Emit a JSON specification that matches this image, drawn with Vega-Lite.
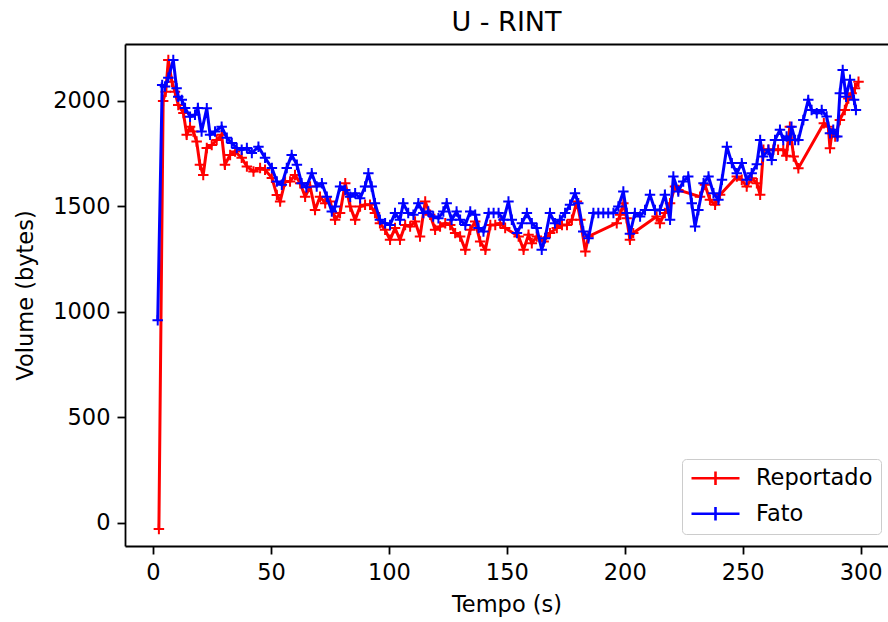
{
  "$schema": "https://vega.github.io/schema/vega-lite/v6.json",
  "autosize": {"type": "none"},
  "padding": {"left": 125, "top": 44, "right": 0, "bottom": 76},
  "width": 763,
  "height": 502,
  "background": "white",
  "title": {"text": "U - RINT", "fontSize": 27, "font": "DejaVu Sans", "fontWeight": "normal", "color": "#000000", "offset": 7, "anchor": "middle", "frame": "group"},
  "config": {
    "view": {"stroke": null},
    "axis": {"grid": false, "domainColor": "#000000", "domainWidth": 1.8, "tickColor": "#000000", "tickWidth": 1.8, "tickSize": 8, "labelPadding": 7, "labelFont": "DejaVu Sans", "labelFontSize": 22.5, "labelColor": "#000000", "titleFont": "DejaVu Sans", "titleFontSize": 22.5, "titleFontWeight": "normal", "titleColor": "#000000", "titlePadding": 8}
  },
  "datasets": {
    "rep": [
      {"t": 2.5, "v": -30}, {"t": 4.3, "v": 2000}, {"t": 5.4, "v": 2044}, {"t": 6.5, "v": 2194}, {"t": 8, "v": 2091}, {"t": 9.3, "v": 2044}, {"t": 10.7, "v": 1981}, {"t": 12.9, "v": 1943}, {"t": 14.3, "v": 1839}, {"t": 15.7, "v": 1878}, {"t": 17.1, "v": 1855}, {"t": 18.5, "v": 1807}, {"t": 19.9, "v": 1697}, {"t": 21.3, "v": 1649}, {"t": 22.8, "v": 1777}, {"t": 24.9, "v": 1791}, {"t": 27, "v": 1815}, {"t": 29.1, "v": 1839}, {"t": 30.5, "v": 1697}, {"t": 32.7, "v": 1744}, {"t": 34.8, "v": 1760}, {"t": 37.6, "v": 1730}, {"t": 39.8, "v": 1689}, {"t": 42.6, "v": 1665}, {"t": 45.4, "v": 1682}, {"t": 47.5, "v": 1673}, {"t": 50.4, "v": 1635}, {"t": 52.5, "v": 1554}, {"t": 53.9, "v": 1523}, {"t": 56, "v": 1618}, {"t": 58.1, "v": 1618}, {"t": 60.2, "v": 1649}, {"t": 62.4, "v": 1610}, {"t": 64.5, "v": 1546}, {"t": 66.6, "v": 1594}, {"t": 68.7, "v": 1483}, {"t": 70.8, "v": 1546}, {"t": 73, "v": 1515}, {"t": 75.1, "v": 1523}, {"t": 77.2, "v": 1436}, {"t": 79.3, "v": 1468}, {"t": 81.5, "v": 1610}, {"t": 83.6, "v": 1499}, {"t": 85.7, "v": 1436}, {"t": 87.8, "v": 1499}, {"t": 89.9, "v": 1507}, {"t": 92, "v": 1507}, {"t": 94.1, "v": 1468}, {"t": 96.2, "v": 1420}, {"t": 98.4, "v": 1389}, {"t": 100.5, "v": 1341}, {"t": 102.6, "v": 1397}, {"t": 104.7, "v": 1341}, {"t": 106.9, "v": 1412}, {"t": 109, "v": 1404}, {"t": 111.1, "v": 1428}, {"t": 113.2, "v": 1357}, {"t": 115.4, "v": 1523}, {"t": 117.5, "v": 1460}, {"t": 119.6, "v": 1389}, {"t": 121.7, "v": 1404}, {"t": 123.9, "v": 1420}, {"t": 126, "v": 1412}, {"t": 128.1, "v": 1373}, {"t": 130.2, "v": 1357}, {"t": 132.4, "v": 1294}, {"t": 134.5, "v": 1389}, {"t": 136.6, "v": 1428}, {"t": 138.7, "v": 1333}, {"t": 140.9, "v": 1294}, {"t": 143, "v": 1412}, {"t": 145.1, "v": 1412}, {"t": 147.2, "v": 1420}, {"t": 149.3, "v": 1397}, {"t": 155, "v": 1357}, {"t": 157.1, "v": 1294}, {"t": 159.2, "v": 1365}, {"t": 160.6, "v": 1325}, {"t": 162.7, "v": 1357}, {"t": 165.6, "v": 1333}, {"t": 168.3, "v": 1373}, {"t": 171.2, "v": 1397}, {"t": 173.4, "v": 1412}, {"t": 175.5, "v": 1412}, {"t": 177.6, "v": 1436}, {"t": 179.7, "v": 1523}, {"t": 181.2, "v": 1436}, {"t": 183.3, "v": 1286}, {"t": 184.6, "v": 1357}, {"t": 196.6, "v": 1420}, {"t": 198.1, "v": 1460}, {"t": 199.4, "v": 1515}, {"t": 200.8, "v": 1444}, {"t": 202.2, "v": 1341}, {"t": 203.6, "v": 1373}, {"t": 213.5, "v": 1452}, {"t": 214.9, "v": 1420}, {"t": 217, "v": 1468}, {"t": 219.2, "v": 1515}, {"t": 221.3, "v": 1594}, {"t": 222.7, "v": 1578}, {"t": 231.9, "v": 1546}, {"t": 234, "v": 1602}, {"t": 236.1, "v": 1531}, {"t": 238.3, "v": 1507}, {"t": 240.4, "v": 1555}, {"t": 247.5, "v": 1641}, {"t": 249.6, "v": 1626}, {"t": 251.7, "v": 1594}, {"t": 253.8, "v": 1633}, {"t": 256, "v": 1610}, {"t": 257.4, "v": 1555}, {"t": 258.8, "v": 1768}, {"t": 260.9, "v": 1768}, {"t": 263, "v": 1768}, {"t": 265, "v": 1768}, {"t": 267.2, "v": 1768}, {"t": 268.5, "v": 1740}, {"t": 270, "v": 1878}, {"t": 271.6, "v": 1736}, {"t": 273.6, "v": 1681}, {"t": 284.4, "v": 1894}, {"t": 286.3, "v": 1878}, {"t": 287, "v": 1776}, {"t": 287.8, "v": 1847}, {"t": 289.2, "v": 1831}, {"t": 291.2, "v": 1910}, {"t": 293.3, "v": 1957}, {"t": 294.8, "v": 2012}, {"t": 296.2, "v": 2036}, {"t": 297.6, "v": 2060}, {"t": 299.1, "v": 2091}
    ],
    "fato": [
      {"t": 2, "v": 960}, {"t": 3.9, "v": 2076}, {"t": 5.1, "v": 2068}, {"t": 6.5, "v": 2110}, {"t": 8.6, "v": 2194}, {"t": 10, "v": 2060}, {"t": 10.7, "v": 2020}, {"t": 12.2, "v": 2005}, {"t": 13.6, "v": 1967}, {"t": 15.7, "v": 1925}, {"t": 17.8, "v": 1934}, {"t": 19, "v": 1967}, {"t": 20.6, "v": 1855}, {"t": 22.8, "v": 1965}, {"t": 24.2, "v": 1839}, {"t": 26.3, "v": 1855}, {"t": 29.1, "v": 1878}, {"t": 31.3, "v": 1825}, {"t": 33.4, "v": 1800}, {"t": 35.5, "v": 1777}, {"t": 37.6, "v": 1768}, {"t": 39.8, "v": 1777}, {"t": 41.9, "v": 1753}, {"t": 44.7, "v": 1783}, {"t": 47.5, "v": 1730}, {"t": 50.4, "v": 1682}, {"t": 52.5, "v": 1618}, {"t": 54.6, "v": 1602}, {"t": 56.7, "v": 1682}, {"t": 58.8, "v": 1744}, {"t": 61, "v": 1697}, {"t": 63, "v": 1610}, {"t": 65, "v": 1590}, {"t": 67.3, "v": 1657}, {"t": 69.4, "v": 1594}, {"t": 71.6, "v": 1610}, {"t": 73.7, "v": 1546}, {"t": 75.8, "v": 1475}, {"t": 77.2, "v": 1499}, {"t": 79.3, "v": 1594}, {"t": 81.5, "v": 1578}, {"t": 83.6, "v": 1546}, {"t": 85.7, "v": 1562}, {"t": 87.8, "v": 1538}, {"t": 89.9, "v": 1594}, {"t": 91.3, "v": 1657}, {"t": 92.7, "v": 1594}, {"t": 94.1, "v": 1515}, {"t": 96.2, "v": 1436}, {"t": 98.4, "v": 1420}, {"t": 100.5, "v": 1412}, {"t": 102.6, "v": 1468}, {"t": 104.7, "v": 1436}, {"t": 106.1, "v": 1515}, {"t": 108.2, "v": 1468}, {"t": 110.4, "v": 1460}, {"t": 112.5, "v": 1515}, {"t": 114.6, "v": 1468}, {"t": 116.7, "v": 1475}, {"t": 118.8, "v": 1452}, {"t": 121, "v": 1444}, {"t": 123.1, "v": 1475}, {"t": 124.5, "v": 1515}, {"t": 126.6, "v": 1436}, {"t": 128.7, "v": 1475}, {"t": 130.2, "v": 1436}, {"t": 132.4, "v": 1412}, {"t": 134.5, "v": 1475}, {"t": 136.6, "v": 1460}, {"t": 138, "v": 1397}, {"t": 140.1, "v": 1381}, {"t": 142.3, "v": 1468}, {"t": 144.4, "v": 1468}, {"t": 146.5, "v": 1468}, {"t": 148.6, "v": 1436}, {"t": 150.7, "v": 1523}, {"t": 152.1, "v": 1436}, {"t": 154.3, "v": 1373}, {"t": 156.4, "v": 1420}, {"t": 158.5, "v": 1468}, {"t": 160.6, "v": 1420}, {"t": 162.7, "v": 1397}, {"t": 164.8, "v": 1294}, {"t": 166.2, "v": 1349}, {"t": 168.3, "v": 1468}, {"t": 170.4, "v": 1420}, {"t": 172.5, "v": 1436}, {"t": 174.7, "v": 1468}, {"t": 176.8, "v": 1507}, {"t": 178.9, "v": 1562}, {"t": 180.3, "v": 1515}, {"t": 182.4, "v": 1381}, {"t": 184.6, "v": 1349}, {"t": 186.7, "v": 1468}, {"t": 188.8, "v": 1468}, {"t": 190.9, "v": 1468}, {"t": 193, "v": 1468}, {"t": 195.2, "v": 1468}, {"t": 197.3, "v": 1499}, {"t": 199.4, "v": 1570}, {"t": 200.8, "v": 1468}, {"t": 202.2, "v": 1370}, {"t": 204.3, "v": 1468}, {"t": 206.5, "v": 1452}, {"t": 208.6, "v": 1483}, {"t": 210.7, "v": 1555}, {"t": 212.8, "v": 1483}, {"t": 214.9, "v": 1483}, {"t": 217, "v": 1555}, {"t": 219.2, "v": 1436}, {"t": 220.6, "v": 1641}, {"t": 222.7, "v": 1570}, {"t": 224.8, "v": 1618}, {"t": 226.9, "v": 1641}, {"t": 228.4, "v": 1515}, {"t": 229.8, "v": 1404}, {"t": 231.2, "v": 1483}, {"t": 233.4, "v": 1610}, {"t": 235.5, "v": 1641}, {"t": 237.6, "v": 1562}, {"t": 239.7, "v": 1531}, {"t": 241.2, "v": 1626}, {"t": 243.3, "v": 1783}, {"t": 245.4, "v": 1705}, {"t": 247.5, "v": 1657}, {"t": 249.6, "v": 1705}, {"t": 251.7, "v": 1626}, {"t": 253.8, "v": 1657}, {"t": 256, "v": 1700}, {"t": 257.4, "v": 1815}, {"t": 258.6, "v": 1736}, {"t": 260.9, "v": 1768}, {"t": 262.3, "v": 1720}, {"t": 263.7, "v": 1815}, {"t": 265.8, "v": 1863}, {"t": 267.2, "v": 1815}, {"t": 268.6, "v": 1831}, {"t": 270, "v": 1815}, {"t": 270.7, "v": 1878}, {"t": 272.2, "v": 1815}, {"t": 273.6, "v": 1815}, {"t": 275.7, "v": 1910}, {"t": 277.8, "v": 2005}, {"t": 279.2, "v": 1957}, {"t": 281.4, "v": 1941}, {"t": 283.5, "v": 1957}, {"t": 285.6, "v": 1926}, {"t": 287, "v": 1847}, {"t": 288.4, "v": 1863}, {"t": 290.1, "v": 1831}, {"t": 291.2, "v": 2036}, {"t": 292.4, "v": 2147}, {"t": 293.8, "v": 2020}, {"t": 295.5, "v": 2100}, {"t": 297.2, "v": 2005}, {"t": 298, "v": 1957}
    ]
  },
  "encoding": {
    "y": {"field": "v", "type": "quantitative", "scale": {"domain": [-111, 2270], "nice": false, "zero": false}, "axis": {"values": [0, 500, 1000, 1500, 2000], "format": "d", "title": "Volume (bytes)", "titlePadding": 15}}
  },
  "resolve": {"axis": {"x": "independent"}},
  "layer": [
    {
      "data": {"name": "rep"},
      "encoding": {
        "x": {"field": "t", "type": "quantitative", "scale": {"domain": [-11.87, 311.6], "nice": false, "zero": false}, "axis": {"values": [0, 50, 100, 150, 200, 250, 300], "title": "Tempo (s)", "titlePadding": 10}},
        "color": {"datum": "Reportado", "type": "nominal", "scale": {"domain": ["Reportado", "Fato"], "range": ["#ff0000", "#0000ff"]}, "legend": {"title": null, "orient": "none", "legendX": 557, "legendY": 415, "symbolType": "M-1,0L1,0M0,-0.28L0,0.28", "symbolSize": 2304, "symbolStrokeWidth": 2.6, "symbolFillColor": "transparent", "clipHeight": 22.5, "rowPadding": 12.5, "labelOffset": 15, "padding": 8, "labelFont": "DejaVu Sans", "labelFontSize": 22.5, "labelColor": "#000000", "labelLimit": 400, "strokeColor": "#cccccc", "fillColor": "rgba(255,255,255,0.8)", "cornerRadius": 4}}
      },
      "layer": [
        {"mark": {"type": "line", "strokeWidth": 3}},
        {"mark": {"type": "point", "shape": "M-1,0L1,0M0,-1L0,1", "filled": false, "size": 110, "strokeWidth": 2, "opacity": 1}}
      ]
    },
    {
      "data": {"name": "fato"},
      "encoding": {
        "x": {"field": "t", "type": "quantitative", "axis": {"orient": "top", "labels": false, "ticks": false, "title": null, "domain": true}},
        "color": {"datum": "Fato", "type": "nominal"}
      },
      "layer": [
        {"mark": {"type": "line", "strokeWidth": 3}},
        {"mark": {"type": "point", "shape": "M-1,0L1,0M0,-1L0,1", "filled": false, "size": 110, "strokeWidth": 2, "opacity": 1}}
      ]
    }
  ]
}
